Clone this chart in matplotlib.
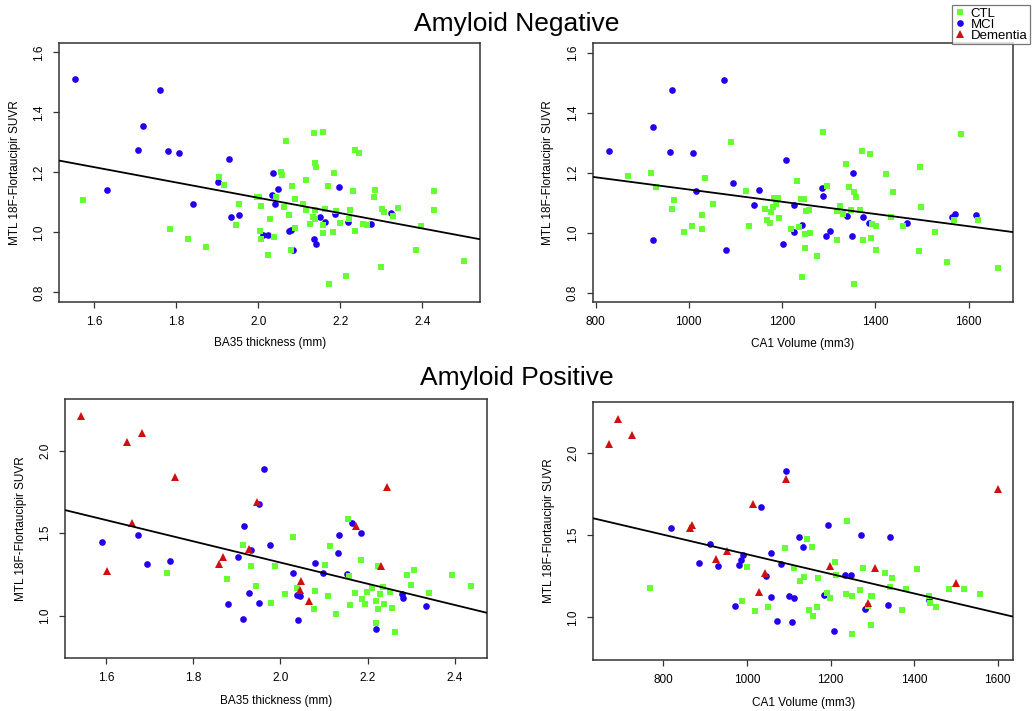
import matplotlib
matplotlib.use("Agg")
import matplotlib.pyplot as plt
from matplotlib.lines import Line2D

plt.rcParams["font.family"] = ["Liberation Sans", "DejaVu Sans"]

GREEN = "#66ff33"
BLUE = "#2200ee"
RED = "#d01010"

# ── Amyloid negative, BA35 thickness ──────────────────────────────────────────
neg_ba35_mci_x = [1.553, 1.761, 1.719, 1.707, 1.780, 1.807, 1.928, 1.631, 1.842, 1.901,
                  1.933, 1.953, 2.035, 2.049, 2.033, 2.042, 2.011, 2.024, 2.076, 2.080,
                  2.086, 2.136, 2.141, 2.150, 2.164, 2.188, 2.196, 2.220, 2.276, 2.324]
neg_ba35_mci_y = [1.510, 1.476, 1.354, 1.274, 1.270, 1.266, 1.244, 1.141, 1.096, 1.168,
                  1.051, 1.058, 1.199, 1.146, 1.124, 1.093, 0.990, 0.991, 1.003, 1.007,
                  0.942, 0.977, 0.962, 1.051, 1.034, 1.062, 1.152, 1.034, 1.028, 1.063]
neg_ba35_ctl_x = [1.574, 1.785, 1.828, 1.873, 1.905, 1.916, 1.946, 1.953, 1.996, 2.003,
                  2.008, 2.004, 2.008, 2.024, 2.029, 2.039, 2.043, 2.056, 2.059, 2.063,
                  2.068, 2.075, 2.079, 2.083, 2.091, 2.091, 2.109, 2.117, 2.116, 2.126,
                  2.133, 2.135, 2.139, 2.142, 2.139, 2.139, 2.157, 2.157, 2.159, 2.170,
                  2.163, 2.172, 2.186, 2.182, 2.189, 2.200, 2.214, 2.222, 2.224, 2.232,
                  2.235, 2.237, 2.247, 2.255, 2.265, 2.282, 2.286, 2.299, 2.302, 2.308,
                  2.328, 2.341, 2.385, 2.397, 2.428, 2.428, 2.502]
neg_ba35_ctl_y = [1.109, 1.012, 0.978, 0.950, 1.184, 1.157, 1.023, 1.093, 1.118, 1.119,
                  1.088, 1.004, 0.977, 0.924, 1.043, 0.986, 1.117, 1.202, 1.190, 1.086,
                  1.304, 1.059, 0.940, 1.153, 1.112, 1.016, 1.096, 1.173, 1.073, 1.027,
                  1.051, 1.330, 1.230, 1.219, 1.073, 1.043, 1.336, 1.024, 0.997, 1.154,
                  1.079, 0.829, 1.198, 1.001, 1.070, 1.032, 0.856, 1.043, 1.073, 1.139,
                  1.003, 1.273, 1.264, 1.028, 1.023, 1.118, 1.140, 0.884, 1.077, 1.068,
                  1.056, 1.080, 0.942, 1.022, 1.138, 1.074, 0.906]
neg_ba35_fit = (-0.2554, 1.626)   # slope, intercept

# ── Amyloid negative, CA1 volume ──────────────────────────────────────────────
neg_ca1_mci_x = [827.9, 924.3, 963.6, 960.0, 924.3, 1008.6, 1015.0, 1075.7, 1080.7, 1095.7,
                 1140.0, 1150.0, 1207.9, 1202.1, 1226.4, 1225.0, 1242.9, 1285.0, 1288.6, 1294.3,
                 1302.9, 1351.4, 1350.0, 1340.0, 1374.3, 1387.1, 1467.1, 1564.3, 1571.4, 1617.1]
neg_ca1_mci_y = [1.273, 1.353, 1.474, 1.269, 0.976, 1.264, 1.140, 1.508, 0.941, 1.167,
                 1.094, 1.144, 1.243, 0.961, 1.093, 1.002, 1.027, 1.150, 1.123, 0.988,
                 1.006, 1.198, 0.990, 1.057, 1.051, 1.033, 1.033, 1.051, 1.063, 1.060]
neg_ca1_ctl_x = [868.6, 919.3, 930.0, 963.6, 968.6, 989.3, 1007.1, 1027.9, 1028.6, 1035.0,
                 1051.4, 1090.0, 1123.6, 1128.6, 1164.3, 1168.6, 1174.3, 1175.7, 1180.7, 1182.1,
                 1186.4, 1190.7, 1193.6, 1219.3, 1232.1, 1235.7, 1241.4, 1246.4, 1242.1, 1249.3,
                 1248.6, 1251.4, 1257.9, 1259.3, 1275.7, 1287.1, 1296.4, 1317.1, 1318.6, 1324.3,
                 1330.0, 1336.4, 1344.3, 1348.6, 1354.3, 1358.6, 1354.3, 1367.1, 1370.7, 1373.6,
                 1388.6, 1390.0, 1392.9, 1401.4, 1400.7, 1422.9, 1433.6, 1437.9, 1459.3, 1494.3,
                 1495.0, 1497.9, 1527.1, 1552.9, 1568.6, 1584.3, 1619.3, 1662.9]
neg_ca1_ctl_y = [1.189, 1.200, 1.151, 1.078, 1.108, 1.003, 1.022, 1.058, 1.014, 1.183,
                 1.096, 1.303, 1.139, 1.022, 1.079, 1.043, 1.031, 1.069, 1.087, 1.116,
                 1.096, 1.116, 1.049, 1.011, 1.172, 1.020, 1.111, 1.114, 0.854, 0.948,
                 0.997, 1.072, 1.076, 1.000, 0.924, 1.334, 1.156, 1.071, 0.976, 1.090,
                 1.064, 1.228, 1.152, 1.076, 1.136, 1.118, 0.828, 1.076, 1.271, 0.977,
                 1.262, 0.984, 1.028, 1.021, 0.941, 1.197, 1.054, 1.136, 1.024, 0.939,
                 1.218, 1.086, 1.003, 0.904, 1.041, 1.328, 1.043, 0.883]
neg_ca1_fit = (-0.000204, 1.348)

# ── Amyloid positive, BA35 thickness ──────────────────────────────────────────
pos_ba35_dem_x = [1.543, 1.648, 1.682, 1.758, 1.661, 1.602, 1.859, 1.869, 1.927, 1.947,
                  2.047, 2.046, 2.066, 2.174, 2.245, 2.230]
pos_ba35_dem_y = [2.210, 2.053, 2.109, 1.842, 1.564, 1.273, 1.315, 1.358, 1.402, 1.689,
                  1.210, 1.154, 1.089, 1.543, 1.782, 1.303]
pos_ba35_mci_x = [1.591, 1.674, 1.694, 1.748, 1.879, 1.904, 1.917, 1.915, 1.927, 1.933,
                  1.952, 1.951, 1.962, 1.976, 2.028, 2.037, 2.045, 2.040, 2.080, 2.097,
                  2.132, 2.134, 2.153, 2.164, 2.185, 2.219, 2.278, 2.280, 2.333]
pos_ba35_mci_y = [1.446, 1.491, 1.315, 1.329, 1.073, 1.354, 1.543, 0.980, 1.139, 1.396,
                  1.675, 1.077, 1.891, 1.430, 1.259, 1.125, 1.121, 0.972, 1.321, 1.259,
                  1.380, 1.491, 1.253, 1.564, 1.503, 0.919, 1.131, 1.107, 1.057]
pos_ba35_ctl_x = [1.741, 1.878, 1.915, 1.933, 1.943, 1.978, 1.988, 2.010, 2.028, 2.037,
                  2.076, 2.080, 2.102, 2.109, 2.114, 2.128, 2.156, 2.158, 2.159, 2.172,
                  2.184, 2.187, 2.193, 2.199, 2.209, 2.219, 2.220, 2.223, 2.224, 2.229,
                  2.235, 2.238, 2.252, 2.255, 2.262, 2.291, 2.300, 2.307, 2.340, 2.393,
                  2.436]
pos_ba35_ctl_y = [1.261, 1.224, 1.430, 1.299, 1.182, 1.077, 1.303, 1.131, 1.475, 1.170,
                  1.038, 1.147, 1.307, 1.121, 1.420, 1.008, 1.588, 1.240, 1.063, 1.135,
                  1.337, 1.099, 1.069, 1.141, 1.170, 1.089, 0.958, 1.299, 1.042, 1.129,
                  1.176, 1.069, 1.143, 1.046, 0.899, 1.246, 1.186, 1.275, 1.135, 1.244,
                  1.178]
pos_ba35_fit = (-0.644, 2.610)

# ── Amyloid positive, CA1 volume ──────────────────────────────────────────────
pos_ca1_dem_x = [669.2, 690.7, 723.4, 867.8, 864.6, 925.2, 953.1, 1015.4, 1044.1, 1028.1,
                 1094.3, 1199.6, 1307.3, 1290.5, 1500.3, 1600.8]
pos_ca1_dem_y = [2.053, 2.206, 2.109, 1.563, 1.543, 1.354, 1.401, 1.688, 1.271, 1.154,
                 1.842, 1.314, 1.302, 1.085, 1.206, 1.777]
pos_ca1_mci_x = [819.1, 886.1, 910.9, 931.6, 971.5, 981.9, 985.0, 991.4, 1034.5, 1045.7,
                 1058.4, 1058.4, 1072.8, 1080.8, 1093.5, 1101.5, 1107.9, 1111.9, 1123.8, 1134.2,
                 1185.2, 1194.8, 1208.4, 1233.9, 1248.3, 1273.0, 1282.6, 1337.3, 1342.9, 1434.9]
pos_ca1_mci_y = [1.543, 1.328, 1.447, 1.312, 1.071, 1.318, 1.350, 1.379, 1.672, 1.249,
                 1.393, 1.121, 0.978, 1.326, 1.891, 1.128, 0.970, 1.119, 1.488, 1.429,
                 1.136, 1.563, 0.915, 1.255, 1.255, 1.502, 1.053, 1.073, 1.490, 1.105]
pos_ca1_ctl_x = [766.5, 988.2, 1001.0, 1019.3, 1050.4, 1091.9, 1111.9, 1126.2, 1137.4, 1143.0,
                 1147.8, 1154.9, 1157.3, 1168.5, 1170.9, 1190.8, 1199.6, 1210.0, 1212.4, 1239.5,
                 1238.0, 1251.5, 1251.5, 1270.6, 1277.8, 1289.0, 1296.2, 1298.5, 1296.2, 1329.6,
                 1341.6, 1348.0, 1371.9, 1381.5, 1407.0, 1435.7, 1438.9, 1452.4, 1483.5, 1519.4,
                 1557.7]
pos_ca1_ctl_y = [1.180, 1.097, 1.306, 1.036, 1.065, 1.419, 1.302, 1.221, 1.243, 1.476,
                 1.043, 1.429, 1.008, 1.065, 1.239, 1.148, 1.119, 1.336, 1.259, 1.583,
                 1.140, 1.130, 0.897, 1.168, 1.298, 1.071, 1.128, 1.132, 0.951, 1.271,
                 1.182, 1.241, 1.043, 1.170, 1.296, 1.132, 1.089, 1.061, 1.174, 1.174,
                 1.142]
pos_ca1_fit = (-0.000594, 1.977)

YLABEL = "MTL 18F-Flortaucipir SUVR"


def scatter_panel(ax, groups, fit, xlim, ylim, xticks, yticks, xlabel, xpad):
    for xs, ys, style in groups:
        ax.plot(xs, ys, linestyle="none", **style)
    slope, intercept = fit
    ax.axline((0, intercept), slope=slope, color="black", linewidth=1.3, zorder=3)
    ax.set_xlim(*xlim)
    ax.set_ylim(*ylim)
    ax.set_xticks(xticks)
    ax.set_yticks(yticks)
    ax.set_xticklabels([str(t) for t in xticks], fontsize=8.5)
    ax.set_yticklabels([f"{t:.1f}" for t in yticks], fontsize=8.5,
                       rotation=90, va="center")
    ax.tick_params(direction="out", length=4, width=0.9, color="#333333", pad=6)
    for s in ax.spines.values():
        s.set_linewidth(1.1)
        s.set_color("#333333")
    ax.set_xlabel(xlabel, fontsize=8.5, labelpad=xpad)
    ax.set_ylabel(YLABEL, fontsize=8.5, labelpad=9)


CTL = dict(marker="s", markersize=4.6, color=GREEN, markeredgewidth=0)
MCI = dict(marker="o", markersize=4.8, color=BLUE, markeredgewidth=0)
DEM = dict(marker="^", markersize=5.6, color=RED, markeredgewidth=0)

fig = plt.figure(figsize=(10.33, 7.11), dpi=100)
fig.patch.set_facecolor("white")

ax1 = fig.add_axes([0.0574, 0.5757, 0.4073, 0.3634])
ax2 = fig.add_axes([0.5738, 0.5752, 0.4071, 0.3638])
ax3 = fig.add_axes([0.0632, 0.0745, 0.4080, 0.3638])
ax4 = fig.add_axes([0.5744, 0.0717, 0.4066, 0.3629])

scatter_panel(ax1, [(neg_ba35_mci_x, neg_ba35_mci_y, MCI),
                    (neg_ba35_ctl_x, neg_ba35_ctl_y, CTL)],
              neg_ba35_fit, (1.515, 2.541), (0.769, 1.63),
              [1.6, 1.8, 2.0, 2.2, 2.4], [0.8, 1.0, 1.2, 1.4, 1.6],
              "BA35 thickness (mm)", 7)
scatter_panel(ax2, [(neg_ca1_mci_x, neg_ca1_mci_y, MCI),
                    (neg_ca1_ctl_x, neg_ca1_ctl_y, CTL)],
              neg_ca1_fit, (794, 1696), (0.769, 1.631),
              [800, 1000, 1200, 1400, 1600], [0.8, 1.0, 1.2, 1.4, 1.6],
              "CA1 Volume (mm3)", 7)
scatter_panel(ax3, [(pos_ba35_mci_x, pos_ba35_mci_y, MCI),
                    (pos_ba35_ctl_x, pos_ba35_ctl_y, CTL),
                    (pos_ba35_dem_x, pos_ba35_dem_y, DEM)],
              pos_ba35_fit, (1.507, 2.473), (0.743, 2.311),
              [1.6, 1.8, 2.0, 2.2, 2.4], [1.0, 1.5, 2.0],
              "BA35 thickness (mm)", 8)
scatter_panel(ax4, [(pos_ca1_mci_x, pos_ca1_mci_y, MCI),
                    (pos_ca1_ctl_x, pos_ca1_ctl_y, CTL),
                    (pos_ca1_dem_x, pos_ca1_dem_y, DEM)],
              pos_ca1_fit, (632, 1638), (0.741, 2.308),
              [800, 1000, 1200, 1400, 1600], [1.0, 1.5, 2.0],
              "CA1 Volume (mm3)", 8)

fig.text(0.5, 0.966, "Amyloid Negative", ha="center", va="center", fontsize=19)
fig.text(0.5, 0.469, "Amyloid Positive", ha="center", va="center", fontsize=19)

handles = [Line2D([], [], linestyle="none", **CTL),
           Line2D([], [], linestyle="none", **MCI),
           Line2D([], [], linestyle="none", **DEM)]
leg = fig.legend(handles, ["CTL", "MCI", "Dementia"], loc="upper right",
                 bbox_to_anchor=(0.997, 0.993), fontsize=9.5, frameon=True,
                 fancybox=False, handlelength=0.8, handletextpad=0.4,
                 labelspacing=-0.1, borderpad=0.2, borderaxespad=0.0)
leg.get_frame().set_edgecolor("#555555")
leg.get_frame().set_linewidth(0.9)

fig.savefig("out.png", dpi=100, facecolor="white")
